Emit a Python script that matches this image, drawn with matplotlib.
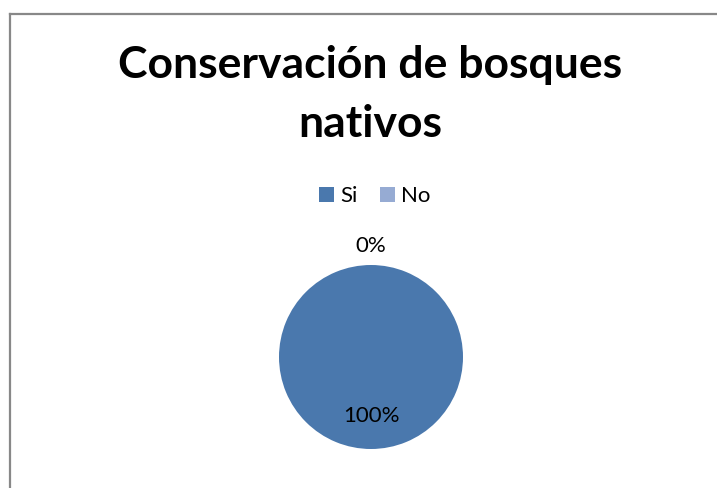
import matplotlib
matplotlib.use("Agg")
import matplotlib.pyplot as plt
from matplotlib.lines import Line2D
from matplotlib.patches import Patch
import numpy as np

plt.rcParams['font.family'] = ['Lato', 'DejaVu Sans']

title_lines = ["Conservación de bosques", "nativos"]
categories = ["Si", "No"]
values = [100, 0]
colors = ["#4A78AD", "#96ABD3"]

W, H = 717, 488
fig = plt.figure(figsize=(W / 100, H / 100), dpi=100)

# outer chart border (only top and left visible in the crop)
fig.add_artist(Line2D([9.5 / W, 1.0], [1 - 14 / H, 1 - 14 / H], color="#888888", lw=1.6))
fig.add_artist(Line2D([9.5 / W, 9.5 / W], [1 - 14 / H, 0.0], color="#888888", lw=1.6))

for line, base in zip(title_lines, [78, 137]):
    fig.text(370 / W, 1 - base / H, line, ha="center", va="baseline", fontsize=32,
             fontweight="bold")

# pie placed so its centre is at (371, 357) px, radius 92 px
cx, cy, r = 371, 357, 92
ax = fig.add_axes([(cx - r) / W, (H - cy - r) / H, 2 * r / W, 2 * r / H])
wedges, _ = ax.pie(values, colors=colors, startangle=90, counterclock=False,
                   wedgeprops=dict(edgecolor="none"))
ax.set_xlim(-1, 1)
ax.set_ylim(-1, 1)

total = sum(values)
for w, v in zip(wedges, values):
    ang = np.deg2rad((w.theta1 + w.theta2) / 2)
    d = 0.64 if v > 0 else 1.21
    ax.text(d * np.cos(ang), d * np.sin(ang), f"{v / total:.0%}", ha="center",
            va="center", fontsize=16, color="black")

handles = [Patch(facecolor=c, edgecolor="none") for c in colors]
fig.legend(handles, categories, loc="center", bbox_to_anchor=(375 / W, 1 - 196 / H),
           ncol=2, frameon=False, fontsize=16, handlelength=0.65, handleheight=0.65,
           handletextpad=0.3, columnspacing=1.0, borderpad=0)

fig.savefig("out.png", dpi=100, facecolor="white")
